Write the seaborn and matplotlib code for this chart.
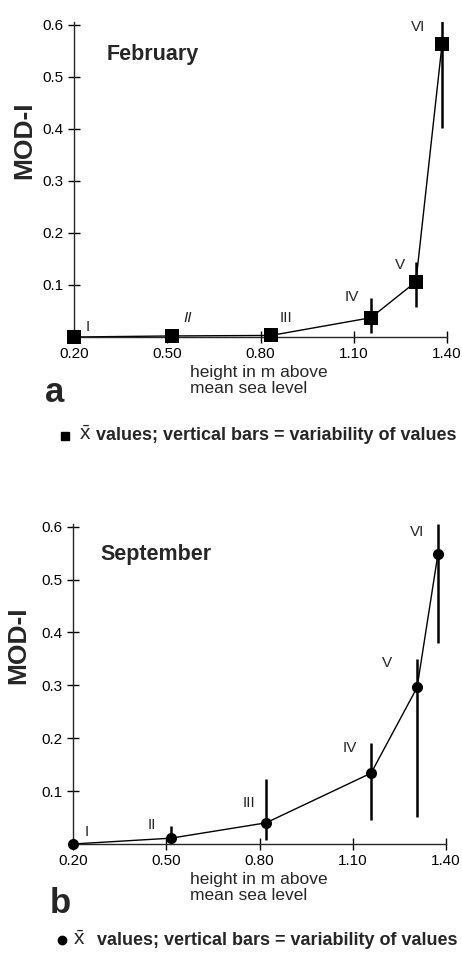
import numpy as np
import pandas as pd
import seaborn as sns
import matplotlib
matplotlib.use("Agg")
import matplotlib.pyplot as plt
from matplotlib.lines import Line2D

# ---------------- data ----------------
stations = ["I", "II", "III", "IV", "V", "VI"]

feb_height = [0.20, 0.515, 0.834, 1.155, 1.30, 1.384]
feb_mean   = [0.0, 0.002, 0.003, 0.037, 0.106, 0.562]
feb_low    = [0.0, 0.002, 0.003, 0.008, 0.058, 0.402]
feb_high   = [0.0, 0.002, 0.003, 0.075, 0.144, 0.610]

sep_height = [0.20, 0.515, 0.821, 1.159, 1.307, 1.374]
sep_mean   = [0.0, 0.011, 0.040, 0.134, 0.296, 0.548]
sep_low    = [0.0, 0.008, 0.008, 0.045, 0.051, 0.380]
sep_high   = [0.0, 0.034, 0.123, 0.191, 0.350, 0.605]

x_ticks = [0.20, 0.50, 0.80, 1.10, 1.40]
x_ticklabels = ["0.20", "0.50", "0.80", "1.10", "1.40"]
y_ticks = [0.1, 0.2, 0.3, 0.4, 0.5, 0.6]
y_ticklabels = ["0.1", "0.2", "0.3", "0.4", "0.5", "0.6"]

# label positions (layout only)
feb_label_pos = [(0.245, 0.019), (0.564, 0.037), (0.882, 0.037),
                 (1.094, 0.077), (1.249, 0.138), (1.307, 0.596)]
sep_label_pos = [(0.245, 0.023), (0.454, 0.036), (0.766, 0.078),
                 (1.091, 0.182), (1.210, 0.343), (1.307, 0.589)]

feb = pd.DataFrame({"station": stations, "height": feb_height, "mean": feb_mean,
                    "low": feb_low, "high": feb_high})
sep = pd.DataFrame({"station": stations, "height": sep_height, "mean": sep_mean,
                    "low": sep_low, "high": sep_high})

# ---------------- style ----------------
sns.set_style("ticks")
plt.rcParams["font.family"] = ["Liberation Sans", "DejaVu Sans"]
plt.rcParams["axes.linewidth"] = 1.0
plt.rcParams["mathtext.fontset"] = "custom"
plt.rcParams["mathtext.rm"] = "Liberation Sans"
plt.rcParams["mathtext.it"] = "Liberation Sans"
plt.rcParams["mathtext.bf"] = "Liberation Sans:bold"

W, H = 462, 960
fig = plt.figure(figsize=(W / 100, H / 100), dpi=100)

def px_ax(left, right, top, bottom):
    return [left / W, 1 - bottom / H, (right - left) / W, (bottom - top) / H]

ax1 = fig.add_axes(px_ax(74, 447, 22, 337))
ax2 = fig.add_axes(px_ax(73, 446, 524, 844))

def draw_panel(ax, df, marker, ms, label_pos, italic_idx=()):
    sns.lineplot(data=df, x="height", y="mean", ax=ax, color="black",
                 linewidth=1.0, sort=False, estimator=None)
    ax.vlines(df["height"], df["low"], df["high"], color="black", linewidth=1.8)
    sns.scatterplot(data=df, x="height", y="mean", ax=ax, marker=marker,
                    s=ms ** 2, color="black", edgecolor="black", linewidth=0,
                    zorder=5, clip_on=False)
    for i, (lab, (lx, ly)) in enumerate(zip(df["station"], label_pos)):
        ax.text(lx, ly, lab, fontsize=11, ha="center", va="center",
                style="italic" if i in italic_idx else "normal")
    ax.set_xlim(0.20, 1.40)
    ax.set_ylim(0, 0.605)
    ax.set_xticks(x_ticks)
    ax.set_xticklabels(x_ticklabels)
    ax.set_yticks(y_ticks)
    ax.set_yticklabels(y_ticklabels)
    ax.tick_params(axis="both", direction="inout", length=8, width=1,
                   labelsize=11, colors="black")
    ax.set_xlabel("")
    ax.set_ylabel("")
    for s in ["top", "right"]:
        ax.spines[s].set_visible(False)
    ax.patch.set_alpha(0)

draw_panel(ax1, feb, "s", 9.5, feb_label_pos, italic_idx=(1,))
draw_panel(ax2, sep, "o", 8.0, sep_label_pos)

# titles
fig.text(107 / W, 1 - 60 / H, "February", fontsize=15.5, fontweight="bold",
         ha="left", va="baseline")
fig.text(100 / W, 1 - 560 / H, "September", fontsize=15.5, fontweight="bold",
         ha="left", va="baseline")

# y labels
fig.text(24 / W, 1 - 140 / H, "MOD-I", fontsize=19, fontweight="bold",
         rotation=90, ha="center", va="center")
fig.text(18 / W, 1 - 645 / H, "MOD-I", fontsize=19, fontweight="bold",
         rotation=90, ha="center", va="center")

# x labels
xlab = "height in m above\nmean sea level"
fig.text(190 / W, 1 - 365 / H, xlab, fontsize=12.5, ha="left", va="top",
         linespacing=1.1)
fig.text(190 / W, 1 - 872 / H, xlab, fontsize=12.5, ha="left", va="top",
         linespacing=1.1)

# panel letters
fig.text(45 / W, 1 - 402 / H, "a", fontsize=25, fontweight="bold",
         ha="left", va="baseline")
fig.text(50 / W, 1 - 913 / H, "b", fontsize=25, fontweight="bold",
         ha="left", va="baseline")

# legends
leg_text = "values; vertical bars = variability of values"
xbar = r"$\bar{\mathrm{x}}$"
fig.add_artist(Line2D([65 / W], [1 - 436 / H], marker="s", markersize=6,
                      color="black", transform=fig.transFigure))
fig.text(79 / W, 1 - 440 / H, xbar, fontsize=15, ha="left", va="baseline")
fig.text(96 / W, 1 - 440 / H, leg_text, fontsize=13, fontweight="bold",
         ha="left", va="baseline")
fig.add_artist(Line2D([62 / W], [1 - 940 / H], marker="o", markersize=6,
                      color="black", transform=fig.transFigure))
fig.text(73 / W, 1 - 945 / H, xbar, fontsize=15, ha="left", va="baseline")
fig.text(97 / W, 1 - 945 / H, leg_text, fontsize=13, fontweight="bold",
         ha="left", va="baseline")

fig.savefig("out.png", dpi=100, facecolor="white")
